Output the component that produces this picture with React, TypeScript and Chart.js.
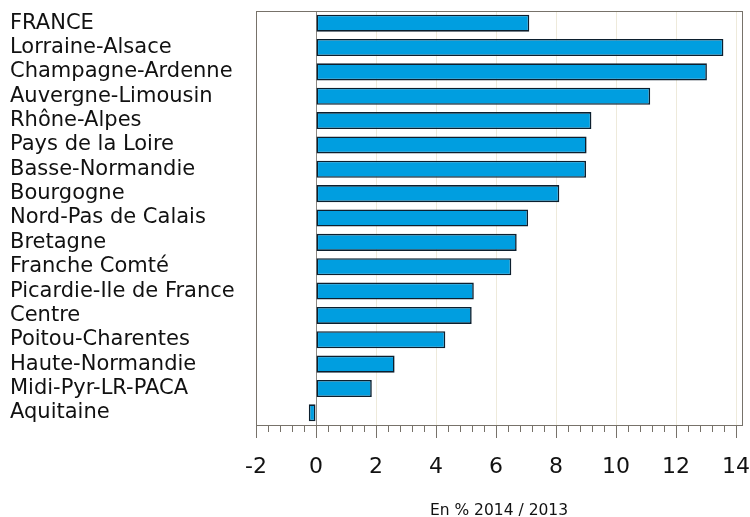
import { useEffect, useRef } from "react";
import { Chart, registerables } from "chart.js";

Chart.register(...registerables);

const categories = [
  "FRANCE",
  "Lorraine-Alsace",
  "Champagne-Ardenne",
  "Auvergne-Limousin",
  "Rhône-Alpes",
  "Pays de la Loire",
  "Basse-Normandie",
  "Bourgogne",
  "Nord-Pas de Calais",
  "Bretagne",
  "Franche Comté",
  "Picardie-Ile de France",
  "Centre",
  "Poitou-Charentes",
  "Haute-Normandie",
  "Midi-Pyr-LR-PACA",
  "Aquitaine",
];

const values = [
  7.11, 13.58, 13.03, 11.14, 9.18, 9.02, 9.0, 8.11, 7.07, 6.69, 6.51, 5.26,
  5.19, 4.31, 2.62, 1.86, -0.24,
];

const xMin = -2;
const xMax = 14.2;
const xMajorStep = 2;
const xMinorStep = 0.4;
const xTitle = "En % 2014 / 2013";

const FONT = "'DejaVu Sans', sans-serif";

const framePlugin = {
  id: "frameAndMinorTicks",
  afterDraw(chart: any) {
    const { ctx, chartArea } = chart;
    const xs = chart.scales.x;
    ctx.save();
    ctx.strokeStyle = "#77726a";
    ctx.lineWidth = 1;
    const n = Math.round((14 - xMin) / xMinorStep);
    for (let i = 0; i <= n; i++) {
      const v = xMin + i * xMinorStep;
      const r = Math.abs(v / xMajorStep - Math.round(v / xMajorStep));
      if (r < 1e-6) continue;
      const px = Math.round(xs.getPixelForValue(v)) + 0.5;
      ctx.beginPath();
      ctx.moveTo(px, chartArea.bottom);
      ctx.lineTo(px, chartArea.bottom + 7);
      ctx.stroke();
    }
    ctx.strokeRect(
      Math.round(chartArea.left) + 0.5,
      Math.round(chartArea.top) + 0.5,
      Math.round(chartArea.right - chartArea.left),
      Math.round(chartArea.bottom - chartArea.top)
    );
    ctx.restore();
  },
};

export default function App() {
  const ref = useRef<HTMLCanvasElement | null>(null);

  useEffect(() => {
    if (!ref.current) return;
    const chart = new Chart(ref.current, {
      type: "bar",
      data: {
        labels: categories,
        datasets: [
          {
            data: values,
            backgroundColor: "#009ee0",
            borderColor: "#0c1f2e",
            borderWidth: 1.6,
            borderSkipped: false,
            barPercentage: 0.7,
            categoryPercentage: 1,
          },
        ],
      },
      options: {
        indexAxis: "y",
        animation: false,
        responsive: true,
        maintainAspectRatio: false,
        layout: {
          autoPadding: false,
          padding: { left: 10, top: 11, right: 8, bottom: 0 },
        },
        plugins: {
          legend: { display: false },
          tooltip: { enabled: false },
        },
        scales: {
          x: {
            type: "linear",
            min: xMin,
            max: xMax,
            afterFit: (s: any) => {
              s.height = 92;
              s.paddingLeft = 0;
              s.paddingRight = 0;
            },
            ticks: {
              stepSize: xMajorStep,
              includeBounds: false,
              padding: 16,
              color: "#111",
              font: { family: FONT, size: 22 },
              maxRotation: 0,
            },
            grid: {
              display: true,
              drawOnChartArea: true,
              drawTicks: true,
              tickLength: 13,
              lineWidth: 1,
              color: (c: any) =>
                c.tick && c.tick.value === 0
                  ? "#8c8882"
                  : c.tick && c.tick.value === xMin
                  ? "rgba(0,0,0,0)"
                  : "#eeeadb",
              tickColor: "#77726a",
            },
            border: { display: false },
            title: {
              display: true,
              text: xTitle,
              color: "#111",
              font: { family: FONT, size: 15.5 },
              padding: { top: 0, bottom: -3 },
            },
          },
          y: {
            type: "category",
            offset: true,
            afterFit: (s: any) => {
              s.width = 246;
              s.paddingTop = 0;
              s.paddingBottom = 0;
            },
            ticks: {
              autoSkip: false,
              crossAlign: "far",
              color: "#111",
              font: { family: FONT, size: 21 },
              padding: 0,
            },
            grid: { display: false },
            border: { display: false },
          },
        },
      },
      plugins: [framePlugin],
    } as any);
    return () => chart.destroy();
  }, []);

  return (
    <div style={{ position: "absolute", left: 0, top: 0, width: 750, height: 517 }}>
      <canvas ref={ref} />
    </div>
  );
}
